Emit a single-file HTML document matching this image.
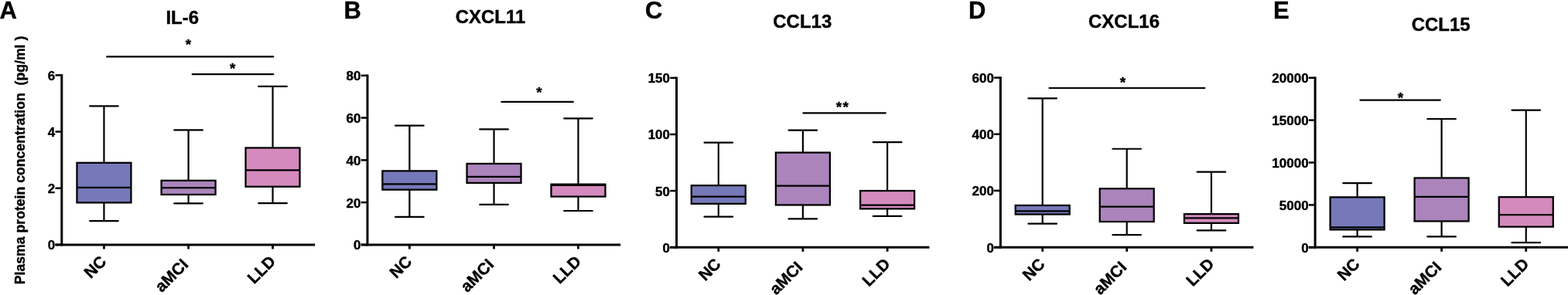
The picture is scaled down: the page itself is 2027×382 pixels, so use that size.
<!DOCTYPE html>
<html><head><meta charset="utf-8"><title>Plasma protein concentration box plots</title>
<style>html,body{margin:0;padding:0;background:#fff;}svg{display:block;font-family:"Liberation Sans", Arial, Helvetica, sans-serif;}text{stroke:#000;stroke-width:0.4px;}</style>
</head><body>
<svg width="2027" height="382" viewBox="0 0 2027 382"><rect width="2027" height="382" fill="#fff"/><g><text x="-0.4" y="24.2" font-size="31" font-weight="bold">A</text><text x="235.75" y="31.3" font-size="24" font-weight="bold" text-anchor="middle">IL-6</text><line x1="134.45" y1="137.3" x2="134.45" y2="210.8" stroke="#000" stroke-width="2.2"/><line x1="134.45" y1="262.4" x2="134.45" y2="286.2" stroke="#000" stroke-width="2.2"/><line x1="116.15" y1="137.3" x2="152.75" y2="137.3" stroke="#000" stroke-width="2.2" stroke-linecap="round"/><line x1="116.15" y1="286.2" x2="152.75" y2="286.2" stroke="#000" stroke-width="2.2" stroke-linecap="round"/><rect x="99.45" y="210.8" width="70.0" height="51.6" fill="#7579B9" stroke="#000" stroke-width="2.25"/><line x1="99.45" y1="242.95" x2="169.45" y2="242.95" stroke="#000" stroke-width="2.25"/><line x1="243.6" y1="168.45" x2="243.6" y2="233.8" stroke="#000" stroke-width="2.2"/><line x1="243.6" y1="251.95" x2="243.6" y2="263.3" stroke="#000" stroke-width="2.2"/><line x1="225.3" y1="168.45" x2="261.9" y2="168.45" stroke="#000" stroke-width="2.2" stroke-linecap="round"/><line x1="225.3" y1="263.3" x2="261.9" y2="263.3" stroke="#000" stroke-width="2.2" stroke-linecap="round"/><rect x="208.6" y="233.8" width="70.0" height="18.15" fill="#AA84BB" stroke="#000" stroke-width="2.25"/><line x1="208.6" y1="243.0" x2="278.6" y2="243.0" stroke="#000" stroke-width="2.25"/><line x1="352.55" y1="111.95" x2="352.55" y2="191.45" stroke="#000" stroke-width="2.2"/><line x1="352.55" y1="241.7" x2="352.55" y2="263.2" stroke="#000" stroke-width="2.2"/><line x1="334.25" y1="111.95" x2="370.85" y2="111.95" stroke="#000" stroke-width="2.2" stroke-linecap="round"/><line x1="334.25" y1="263.2" x2="370.85" y2="263.2" stroke="#000" stroke-width="2.2" stroke-linecap="round"/><rect x="317.55" y="191.45" width="70.0" height="50.25" fill="#D48ABD" stroke="#000" stroke-width="2.25"/><line x1="317.55" y1="220.3" x2="387.55" y2="220.3" stroke="#000" stroke-width="2.25"/><line x1="79.8" y1="96.1" x2="79.8" y2="318.4" stroke="#000" stroke-width="3.0"/><line x1="71.5" y1="316.9" x2="407.2" y2="316.9" stroke="#000" stroke-width="3.0"/><line x1="71.5" y1="316.9" x2="79.8" y2="316.9" stroke="#000" stroke-width="2.5"/><text x="71.2" y="323.3" font-size="17" font-weight="bold" text-anchor="end">0</text><line x1="71.5" y1="243.7" x2="79.8" y2="243.7" stroke="#000" stroke-width="2.5"/><text x="71.2" y="250.1" font-size="17" font-weight="bold" text-anchor="end">2</text><line x1="71.5" y1="170.5" x2="79.8" y2="170.5" stroke="#000" stroke-width="2.5"/><text x="71.2" y="176.9" font-size="17" font-weight="bold" text-anchor="end">4</text><line x1="71.5" y1="97.4" x2="79.8" y2="97.4" stroke="#000" stroke-width="2.5"/><text x="71.2" y="103.8" font-size="17" font-weight="bold" text-anchor="end">6</text><line x1="134.45" y1="316.9" x2="134.45" y2="322.5" stroke="#000" stroke-width="2.8"/><text x="138.75" y="340.0" font-size="21" font-weight="bold" text-anchor="end" transform="rotate(-45 138.75 340.0)">NC</text><line x1="243.6" y1="316.9" x2="243.6" y2="322.5" stroke="#000" stroke-width="2.8"/><text x="244.6" y="343.9" font-size="21" font-weight="bold" text-anchor="end" transform="rotate(-45 244.6 343.9)">aMCI</text><line x1="352.55" y1="316.9" x2="352.55" y2="322.5" stroke="#000" stroke-width="2.8"/><text x="357.45" y="339.7" font-size="21" font-weight="bold" text-anchor="end" transform="rotate(-45 357.45 339.7)">LLD</text><line x1="138.1" y1="73.3" x2="353.3" y2="73.3" stroke="#000" stroke-width="2.2" stroke-linecap="round"/><text x="243.5" y="63.89" font-size="19" font-weight="bold" text-anchor="middle">*</text><line x1="248.7" y1="96.1" x2="353.3" y2="96.1" stroke="#000" stroke-width="2.2" stroke-linecap="round"/><text x="300.7" y="94.99" font-size="19" font-weight="bold" text-anchor="middle">*</text></g><g><text x="444.6" y="24.2" font-size="31" font-weight="bold">B</text><text x="634.05" y="30.3" font-size="24" font-weight="bold" text-anchor="middle">CXCL11</text><line x1="529.4" y1="162.7" x2="529.4" y2="221.35" stroke="#000" stroke-width="2.2"/><line x1="529.4" y1="245.65" x2="529.4" y2="280.95" stroke="#000" stroke-width="2.2"/><line x1="511.1" y1="162.7" x2="547.7" y2="162.7" stroke="#000" stroke-width="2.2" stroke-linecap="round"/><line x1="511.1" y1="280.95" x2="547.7" y2="280.95" stroke="#000" stroke-width="2.2" stroke-linecap="round"/><rect x="494.4" y="221.35" width="70.0" height="24.3" fill="#7579B9" stroke="#000" stroke-width="2.25"/><line x1="494.4" y1="238.4" x2="564.4" y2="238.4" stroke="#000" stroke-width="2.25"/><line x1="638.55" y1="167.4" x2="638.55" y2="211.95" stroke="#000" stroke-width="2.2"/><line x1="638.55" y1="236.85" x2="638.55" y2="264.8" stroke="#000" stroke-width="2.2"/><line x1="620.25" y1="167.4" x2="656.85" y2="167.4" stroke="#000" stroke-width="2.2" stroke-linecap="round"/><line x1="620.25" y1="264.8" x2="656.85" y2="264.8" stroke="#000" stroke-width="2.2" stroke-linecap="round"/><rect x="603.55" y="211.95" width="70.0" height="24.9" fill="#AA84BB" stroke="#000" stroke-width="2.25"/><line x1="603.55" y1="228.9" x2="673.55" y2="228.9" stroke="#000" stroke-width="2.25"/><line x1="747.5" y1="153.3" x2="747.5" y2="238.65" stroke="#000" stroke-width="2.2"/><line x1="747.5" y1="254.55" x2="747.5" y2="273.0" stroke="#000" stroke-width="2.2"/><line x1="729.2" y1="153.3" x2="765.8" y2="153.3" stroke="#000" stroke-width="2.2" stroke-linecap="round"/><line x1="729.2" y1="273.0" x2="765.8" y2="273.0" stroke="#000" stroke-width="2.2" stroke-linecap="round"/><rect x="712.5" y="238.65" width="70.0" height="15.9" fill="#D48ABD" stroke="#000" stroke-width="2.25"/><line x1="712.5" y1="239.75" x2="782.5" y2="239.75" stroke="#000" stroke-width="2.25"/><line x1="475" y1="96.5" x2="475" y2="318.4" stroke="#000" stroke-width="3.0"/><line x1="466.7" y1="316.9" x2="802.2" y2="316.9" stroke="#000" stroke-width="3.0"/><line x1="466.7" y1="316.9" x2="475" y2="316.9" stroke="#000" stroke-width="2.5"/><text x="466.4" y="323.3" font-size="17" font-weight="bold" text-anchor="end">0</text><line x1="466.7" y1="262.1" x2="475" y2="262.1" stroke="#000" stroke-width="2.5"/><text x="466.4" y="268.5" font-size="17" font-weight="bold" text-anchor="end">20</text><line x1="466.7" y1="207.35" x2="475" y2="207.35" stroke="#000" stroke-width="2.5"/><text x="466.4" y="213.75" font-size="17" font-weight="bold" text-anchor="end">40</text><line x1="466.7" y1="152.55" x2="475" y2="152.55" stroke="#000" stroke-width="2.5"/><text x="466.4" y="158.95" font-size="17" font-weight="bold" text-anchor="end">60</text><line x1="466.7" y1="97.8" x2="475" y2="97.8" stroke="#000" stroke-width="2.5"/><text x="466.4" y="104.2" font-size="17" font-weight="bold" text-anchor="end">80</text><line x1="529.4" y1="316.9" x2="529.4" y2="322.5" stroke="#000" stroke-width="2.8"/><text x="533.7" y="340.0" font-size="21" font-weight="bold" text-anchor="end" transform="rotate(-45 533.7 340.0)">NC</text><line x1="638.55" y1="316.9" x2="638.55" y2="322.5" stroke="#000" stroke-width="2.8"/><text x="639.55" y="343.9" font-size="21" font-weight="bold" text-anchor="end" transform="rotate(-45 639.55 343.9)">aMCI</text><line x1="747.5" y1="316.9" x2="747.5" y2="322.5" stroke="#000" stroke-width="2.8"/><text x="752.4" y="339.7" font-size="21" font-weight="bold" text-anchor="end" transform="rotate(-45 752.4 339.7)">LLD</text><line x1="648.4" y1="131.9" x2="740.9" y2="131.9" stroke="#000" stroke-width="2.2" stroke-linecap="round"/><text x="697" y="125.89" font-size="19" font-weight="bold" text-anchor="middle">*</text></g><g><text x="834" y="24.2" font-size="31" font-weight="bold">C</text><text x="1037.25" y="36" font-size="24" font-weight="bold" text-anchor="middle">CCL13</text><line x1="928.8" y1="184.6" x2="928.8" y2="240.15" stroke="#000" stroke-width="2.2"/><line x1="928.8" y1="263.85" x2="928.8" y2="280.7" stroke="#000" stroke-width="2.2"/><line x1="910.5" y1="184.6" x2="947.1" y2="184.6" stroke="#000" stroke-width="2.2" stroke-linecap="round"/><line x1="910.5" y1="280.7" x2="947.1" y2="280.7" stroke="#000" stroke-width="2.2" stroke-linecap="round"/><rect x="893.8" y="240.15" width="70.0" height="23.7" fill="#7579B9" stroke="#000" stroke-width="2.25"/><line x1="893.8" y1="254.6" x2="963.8" y2="254.6" stroke="#000" stroke-width="2.25"/><line x1="1037.9" y1="168.6" x2="1037.9" y2="197.55" stroke="#000" stroke-width="2.2"/><line x1="1037.9" y1="265.45" x2="1037.9" y2="283.4" stroke="#000" stroke-width="2.2"/><line x1="1019.6" y1="168.6" x2="1056.2" y2="168.6" stroke="#000" stroke-width="2.2" stroke-linecap="round"/><line x1="1019.6" y1="283.4" x2="1056.2" y2="283.4" stroke="#000" stroke-width="2.2" stroke-linecap="round"/><rect x="1002.9" y="197.55" width="70.0" height="67.9" fill="#AA84BB" stroke="#000" stroke-width="2.25"/><line x1="1002.9" y1="240.6" x2="1072.9" y2="240.6" stroke="#000" stroke-width="2.25"/><line x1="1147.1" y1="184.2" x2="1147.1" y2="247.05" stroke="#000" stroke-width="2.2"/><line x1="1147.1" y1="270.35" x2="1147.1" y2="279.9" stroke="#000" stroke-width="2.2"/><line x1="1128.8" y1="184.2" x2="1165.4" y2="184.2" stroke="#000" stroke-width="2.2" stroke-linecap="round"/><line x1="1128.8" y1="279.9" x2="1165.4" y2="279.9" stroke="#000" stroke-width="2.2" stroke-linecap="round"/><rect x="1112.1" y="247.05" width="70.0" height="23.3" fill="#D48ABD" stroke="#000" stroke-width="2.25"/><line x1="1112.1" y1="265.5" x2="1182.1" y2="265.5" stroke="#000" stroke-width="2.25"/><line x1="874.6" y1="99.6" x2="874.6" y2="321.75" stroke="#000" stroke-width="3.0"/><line x1="866.3" y1="320.25" x2="1201.4" y2="320.25" stroke="#000" stroke-width="3.0"/><line x1="866.3" y1="320.25" x2="874.6" y2="320.25" stroke="#000" stroke-width="2.5"/><text x="866" y="326.65" font-size="17" font-weight="bold" text-anchor="end">0</text><line x1="866.3" y1="247.1" x2="874.6" y2="247.1" stroke="#000" stroke-width="2.5"/><text x="866" y="253.5" font-size="17" font-weight="bold" text-anchor="end">50</text><line x1="866.3" y1="174" x2="874.6" y2="174" stroke="#000" stroke-width="2.5"/><text x="866" y="180.4" font-size="17" font-weight="bold" text-anchor="end">100</text><line x1="866.3" y1="100.9" x2="874.6" y2="100.9" stroke="#000" stroke-width="2.5"/><text x="866" y="107.3" font-size="17" font-weight="bold" text-anchor="end">150</text><line x1="928.8" y1="320.25" x2="928.8" y2="325.85" stroke="#000" stroke-width="2.8"/><text x="933.1" y="343.35" font-size="21" font-weight="bold" text-anchor="end" transform="rotate(-45 933.1 343.35)">NC</text><line x1="1037.9" y1="320.25" x2="1037.9" y2="325.85" stroke="#000" stroke-width="2.8"/><text x="1038.9" y="347.25" font-size="21" font-weight="bold" text-anchor="end" transform="rotate(-45 1038.9 347.25)">aMCI</text><line x1="1147.1" y1="320.25" x2="1147.1" y2="325.85" stroke="#000" stroke-width="2.8"/><text x="1152.0" y="343.05" font-size="21" font-weight="bold" text-anchor="end" transform="rotate(-45 1152.0 343.05)">LLD</text><line x1="1038.4" y1="146.3" x2="1144.8" y2="146.3" stroke="#000" stroke-width="2.2" stroke-linecap="round"/><text x="1089.5" y="145.19" font-size="19" font-weight="bold" text-anchor="middle" letter-spacing="1.4">**</text></g><g><text x="1252" y="24.2" font-size="31" font-weight="bold">D</text><text x="1453.05" y="35.5" font-size="24" font-weight="bold" text-anchor="middle">CXCL16</text><line x1="1347.7" y1="127.3" x2="1347.7" y2="265.95" stroke="#000" stroke-width="2.2"/><line x1="1347.7" y1="277.55" x2="1347.7" y2="289.7" stroke="#000" stroke-width="2.2"/><line x1="1329.4" y1="127.3" x2="1366.0" y2="127.3" stroke="#000" stroke-width="2.2" stroke-linecap="round"/><line x1="1329.4" y1="289.7" x2="1366.0" y2="289.7" stroke="#000" stroke-width="2.2" stroke-linecap="round"/><rect x="1312.7" y="265.95" width="70.0" height="11.6" fill="#7579B9" stroke="#000" stroke-width="2.25"/><line x1="1312.7" y1="273.3" x2="1382.7" y2="273.3" stroke="#000" stroke-width="2.25"/><line x1="1456.7" y1="192.75" x2="1456.7" y2="244.25" stroke="#000" stroke-width="2.2"/><line x1="1456.7" y1="287.05" x2="1456.7" y2="304.1" stroke="#000" stroke-width="2.2"/><line x1="1438.4" y1="192.75" x2="1475.0" y2="192.75" stroke="#000" stroke-width="2.2" stroke-linecap="round"/><line x1="1438.4" y1="304.1" x2="1475.0" y2="304.1" stroke="#000" stroke-width="2.2" stroke-linecap="round"/><rect x="1421.7" y="244.25" width="70.0" height="42.8" fill="#AA84BB" stroke="#000" stroke-width="2.25"/><line x1="1421.7" y1="267.5" x2="1491.7" y2="267.5" stroke="#000" stroke-width="2.25"/><line x1="1565.95" y1="222.7" x2="1565.95" y2="277.15" stroke="#000" stroke-width="2.2"/><line x1="1565.95" y1="288.85" x2="1565.95" y2="298.4" stroke="#000" stroke-width="2.2"/><line x1="1547.65" y1="222.7" x2="1584.25" y2="222.7" stroke="#000" stroke-width="2.2" stroke-linecap="round"/><line x1="1547.65" y1="298.4" x2="1584.25" y2="298.4" stroke="#000" stroke-width="2.2" stroke-linecap="round"/><rect x="1530.95" y="277.15" width="70.0" height="11.7" fill="#D48ABD" stroke="#000" stroke-width="2.25"/><line x1="1530.95" y1="282.3" x2="1600.95" y2="282.3" stroke="#000" stroke-width="2.25"/><line x1="1293.4" y1="99.3" x2="1293.4" y2="321.7" stroke="#000" stroke-width="3.0"/><line x1="1285.1" y1="320.2" x2="1620.4" y2="320.2" stroke="#000" stroke-width="3.0"/><line x1="1285.1" y1="320.2" x2="1293.4" y2="320.2" stroke="#000" stroke-width="2.5"/><text x="1284.9" y="326.6" font-size="17" font-weight="bold" text-anchor="end">0</text><line x1="1285.1" y1="246.9" x2="1293.4" y2="246.9" stroke="#000" stroke-width="2.5"/><text x="1284.9" y="253.3" font-size="17" font-weight="bold" text-anchor="end">200</text><line x1="1285.1" y1="173.75" x2="1293.4" y2="173.75" stroke="#000" stroke-width="2.5"/><text x="1284.9" y="180.15" font-size="17" font-weight="bold" text-anchor="end">400</text><line x1="1285.1" y1="100.6" x2="1293.4" y2="100.6" stroke="#000" stroke-width="2.5"/><text x="1284.9" y="107.0" font-size="17" font-weight="bold" text-anchor="end">600</text><line x1="1347.7" y1="320.2" x2="1347.7" y2="325.8" stroke="#000" stroke-width="2.8"/><text x="1352.0" y="343.3" font-size="21" font-weight="bold" text-anchor="end" transform="rotate(-45 1352.0 343.3)">NC</text><line x1="1456.7" y1="320.2" x2="1456.7" y2="325.8" stroke="#000" stroke-width="2.8"/><text x="1457.7" y="347.2" font-size="21" font-weight="bold" text-anchor="end" transform="rotate(-45 1457.7 347.2)">aMCI</text><line x1="1565.95" y1="320.2" x2="1565.95" y2="325.8" stroke="#000" stroke-width="2.8"/><text x="1570.85" y="343.0" font-size="21" font-weight="bold" text-anchor="end" transform="rotate(-45 1570.85 343.0)">LLD</text><line x1="1356.5" y1="114.0" x2="1557.4" y2="114.0" stroke="#000" stroke-width="2.2" stroke-linecap="round"/><text x="1451.5" y="112.59" font-size="19" font-weight="bold" text-anchor="middle">*</text></g><g><text x="1645.9" y="24.2" font-size="31" font-weight="bold">E</text><text x="1862.7" y="40" font-size="24" font-weight="bold" text-anchor="middle">CCL15</text><line x1="1754.6" y1="237.2" x2="1754.6" y2="255.35" stroke="#000" stroke-width="2.2"/><line x1="1754.6" y1="297.4" x2="1754.6" y2="306.4" stroke="#000" stroke-width="2.2"/><line x1="1736.3" y1="237.2" x2="1772.9" y2="237.2" stroke="#000" stroke-width="2.2" stroke-linecap="round"/><line x1="1736.3" y1="306.4" x2="1772.9" y2="306.4" stroke="#000" stroke-width="2.2" stroke-linecap="round"/><rect x="1719.6" y="255.35" width="70.0" height="42.05" fill="#7579B9" stroke="#000" stroke-width="2.25"/><line x1="1719.6" y1="294.3" x2="1789.6" y2="294.3" stroke="#000" stroke-width="2.25"/><line x1="1863.6" y1="154.0" x2="1863.6" y2="230.45" stroke="#000" stroke-width="2.2"/><line x1="1863.6" y1="286.45" x2="1863.6" y2="306.3" stroke="#000" stroke-width="2.2"/><line x1="1845.3" y1="154.0" x2="1881.9" y2="154.0" stroke="#000" stroke-width="2.2" stroke-linecap="round"/><line x1="1845.3" y1="306.3" x2="1881.9" y2="306.3" stroke="#000" stroke-width="2.2" stroke-linecap="round"/><rect x="1828.6" y="230.45" width="70.0" height="56.0" fill="#AA84BB" stroke="#000" stroke-width="2.25"/><line x1="1828.6" y1="254.9" x2="1898.6" y2="254.9" stroke="#000" stroke-width="2.25"/><line x1="1972.75" y1="142.6" x2="1972.75" y2="255.15" stroke="#000" stroke-width="2.2"/><line x1="1972.75" y1="293.65" x2="1972.75" y2="314.2" stroke="#000" stroke-width="2.2"/><line x1="1954.45" y1="142.6" x2="1991.05" y2="142.6" stroke="#000" stroke-width="2.2" stroke-linecap="round"/><line x1="1954.45" y1="314.2" x2="1991.05" y2="314.2" stroke="#000" stroke-width="2.2" stroke-linecap="round"/><rect x="1937.75" y="255.15" width="70.0" height="38.5" fill="#D48ABD" stroke="#000" stroke-width="2.25"/><line x1="1937.75" y1="278.2" x2="2007.75" y2="278.2" stroke="#000" stroke-width="2.25"/><line x1="1700.1" y1="99.45" x2="1700.1" y2="321.75" stroke="#000" stroke-width="3.0"/><line x1="1691.8" y1="320.25" x2="2027" y2="320.25" stroke="#000" stroke-width="3.0"/><line x1="1691.8" y1="320.25" x2="1700.1" y2="320.25" stroke="#000" stroke-width="2.5"/><text x="1691.6" y="326.65" font-size="17" font-weight="bold" text-anchor="end">0</text><line x1="1691.8" y1="265.4" x2="1700.1" y2="265.4" stroke="#000" stroke-width="2.5"/><text x="1691.6" y="271.8" font-size="17" font-weight="bold" text-anchor="end">5000</text><line x1="1691.8" y1="210.5" x2="1700.1" y2="210.5" stroke="#000" stroke-width="2.5"/><text x="1691.6" y="216.9" font-size="17" font-weight="bold" text-anchor="end">10000</text><line x1="1691.8" y1="155.6" x2="1700.1" y2="155.6" stroke="#000" stroke-width="2.5"/><text x="1691.6" y="162.0" font-size="17" font-weight="bold" text-anchor="end">15000</text><line x1="1691.8" y1="100.75" x2="1700.1" y2="100.75" stroke="#000" stroke-width="2.5"/><text x="1691.6" y="107.15" font-size="17" font-weight="bold" text-anchor="end">20000</text><line x1="1754.6" y1="320.25" x2="1754.6" y2="325.85" stroke="#000" stroke-width="2.8"/><text x="1758.9" y="343.35" font-size="21" font-weight="bold" text-anchor="end" transform="rotate(-45 1758.9 343.35)">NC</text><line x1="1863.6" y1="320.25" x2="1863.6" y2="325.85" stroke="#000" stroke-width="2.8"/><text x="1864.6" y="347.25" font-size="21" font-weight="bold" text-anchor="end" transform="rotate(-45 1864.6 347.25)">aMCI</text><line x1="1972.75" y1="320.25" x2="1972.75" y2="325.85" stroke="#000" stroke-width="2.8"/><text x="1977.65" y="343.05" font-size="21" font-weight="bold" text-anchor="end" transform="rotate(-45 1977.65 343.05)">LLD</text><line x1="1758.5" y1="129.7" x2="1861.8" y2="129.7" stroke="#000" stroke-width="2.2" stroke-linecap="round"/><text x="1810.4" y="132.69" font-size="19" font-weight="bold" text-anchor="middle">*</text></g><text x="0" y="0" font-size="17.65" font-weight="bold" transform="translate(31.8 368.2) rotate(-90)" xml:space="preserve">Plasma protein concentration  (pg/ml )</text></svg>
</body></html>
